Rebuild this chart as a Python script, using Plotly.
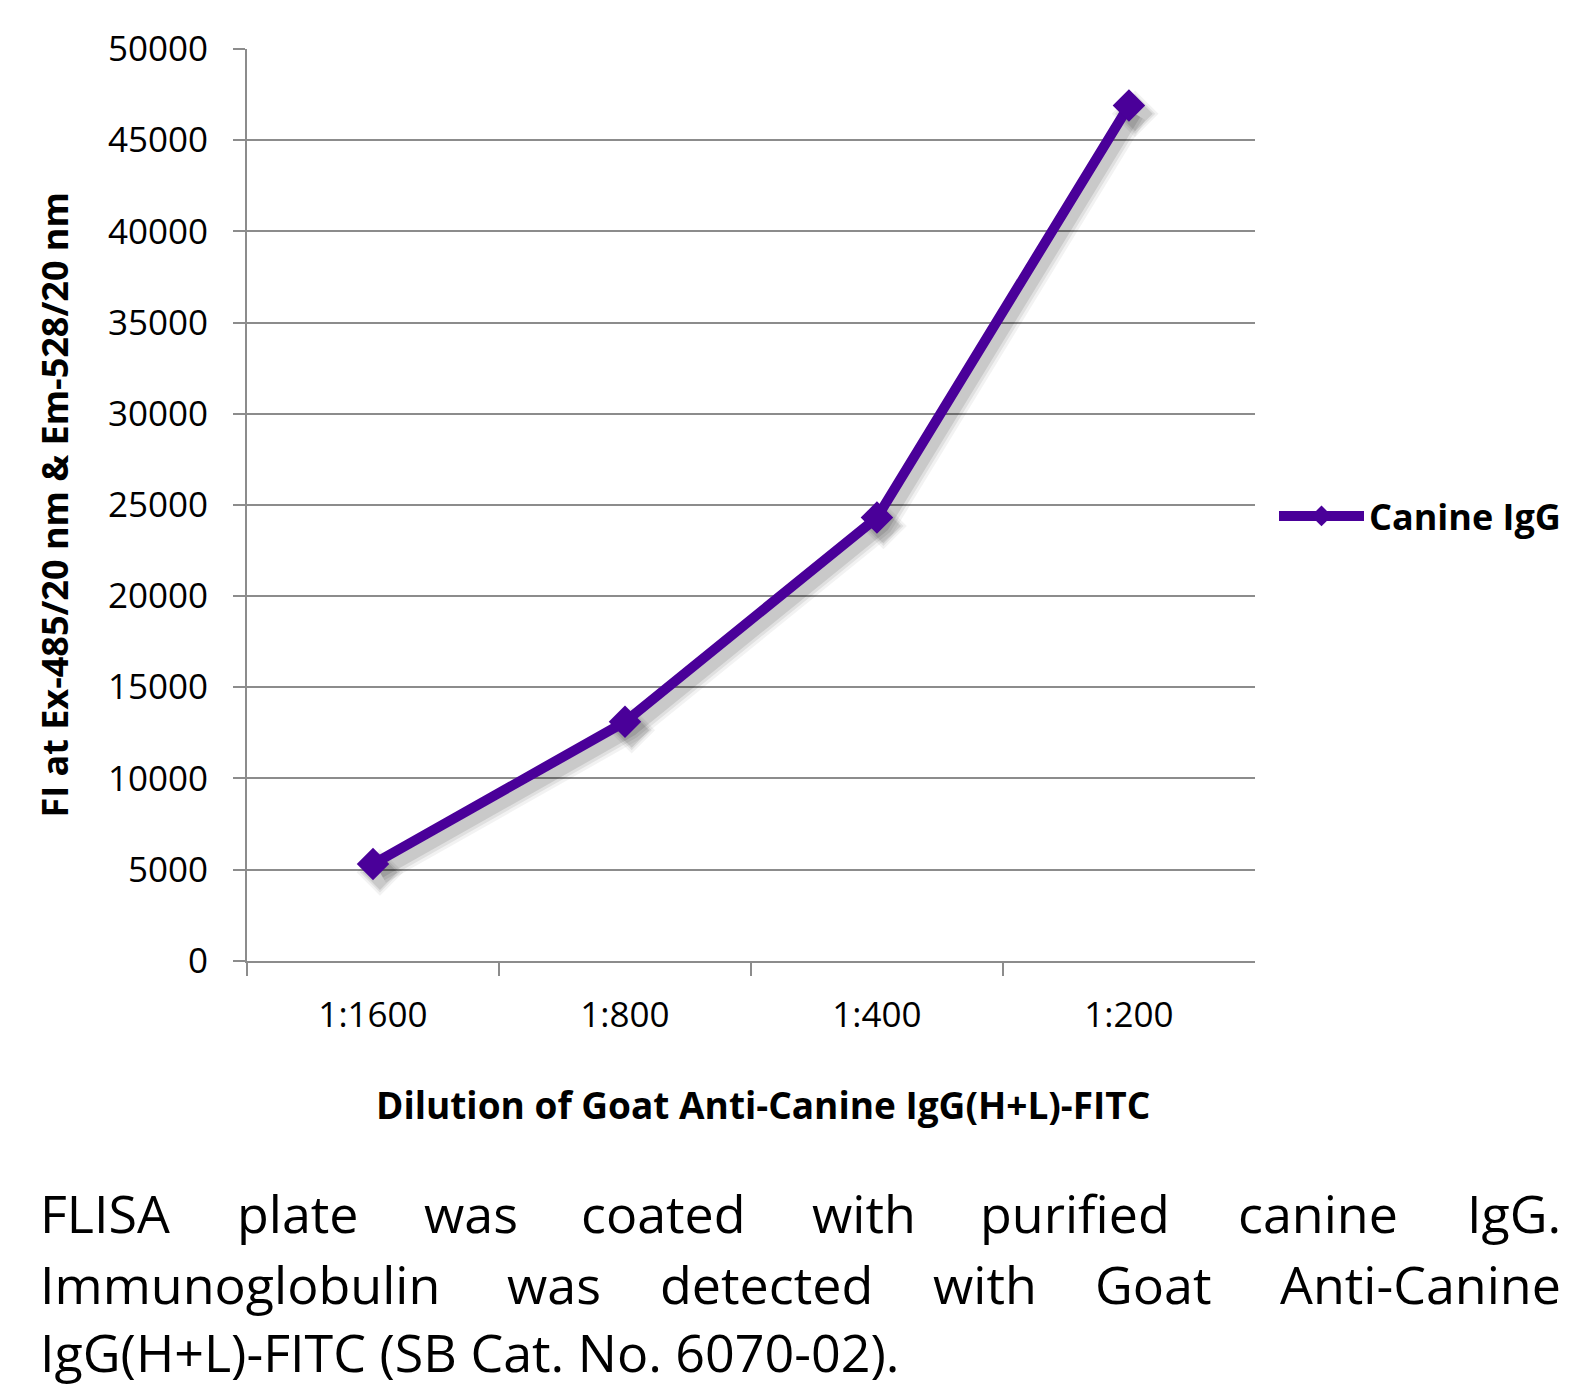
import plotly.graph_objects as go

# Dilution series and measured fluorescence
dilutions = ["1:1600", "1:800", "1:400", "1:200"]
fi_values = [5300, 13100, 24300, 46900]
series_name = "Canine IgG"

y_ticks = list(range(0, 50001, 5000))
y_ticktext = [str(v) for v in y_ticks]

x_title = "Dilution of Goat Anti-Canine IgG(H+L)-FITC"
y_title = "FI at Ex-485/20 nm &amp; Em-528/20 nm"

caption_lines = [
    ["FLISA", "plate", "was", "coated", "with", "purified", "canine", "IgG."],
    ["Immunoglobulin", "was", "detected", "with", "Goat", "Anti-Canine"],
    ["IgG(H+L)-FITC (SB Cat. No. 6070-02)."],
]
# word centres (px), first word left aligned, last right aligned
caption_x = [
    [38, 298, 471, 663, 864, 1075, 1318, 1563],
    [38, 554, 766, 985, 1153, 1563],
    [38],
]
caption_y = [1212, 1283, 1352]

PURPLE = "#4a0099"
GRID = "#8c8c8c"
FONT = "Open Sans"

# the page body adds an 8px margin, so the figure is 8px smaller on each side
OFF = 8
W, H = 1590 - OFF, 1391 - OFF
ML, MR, MT, MB = 239, 329, 41, 422
PW = W - ML - MR
PH = H - MT - MB


def px_x(p):
    return (p - OFF - ML) / PW


def px_y(p):
    return (H - MB - (p - OFF)) / PH


fig = go.Figure()

# invisible copy so the visible axes have data
fig.add_trace(go.Scatter(
    x=dilutions, y=fi_values, mode="markers", marker=dict(opacity=0),
    showlegend=False, hoverinfo="skip",
))

# soft shadow under the line (drawn on an offset copy of the axes)
for width, msize, alpha in [(24, 36, 0.05), (18, 31, 0.07), (12, 27, 0.10)]:
    fig.add_trace(go.Scatter(
        x=dilutions, y=fi_values, mode="lines+markers",
        line=dict(color=f"rgba(0,0,0,{alpha})", width=width),
        marker=dict(symbol="diamond", size=msize, color=f"rgba(0,0,0,{alpha})"),
        xaxis="x2", yaxis="y2", showlegend=False, hoverinfo="skip",
    ))

fig.add_trace(go.Scatter(
    x=dilutions, y=fi_values, mode="lines+markers", name=series_name,
    line=dict(color=PURPLE, width=10),
    marker=dict(symbol="diamond", size=25, color=PURPLE),
    xaxis="x3", yaxis="y3",
))

x_dom = [0, 0.994]
y_dom = [0.009, 1]
hidden_x = dict(type="category", range=[-0.5, 3.5], visible=False, fixedrange=True)
hidden_y = dict(range=[0, 50000], visible=False, fixedrange=True)

fig.update_layout(
    width=W, height=H,
    margin=dict(l=ML, r=MR, t=MT, b=MB),
    paper_bgcolor="white", plot_bgcolor="rgba(0,0,0,0)",
    font=dict(family=FONT, color="black"),
    xaxis=dict(
        domain=x_dom, type="category",
        range=[-0.5, 3.5], tickson="boundaries", ticks="outside", ticklen=13,
        tickwidth=2, tickcolor=GRID, showline=True, linecolor=GRID, linewidth=2,
        showgrid=False, tickfont=dict(size=35, family=FONT), ticklabelstandoff=22,
    ),
    yaxis=dict(
        domain=y_dom, range=[0, 50000], tickvals=y_ticks, ticktext=y_ticktext,
        ticks="outside", ticklen=12,
        tickwidth=2, tickcolor=GRID, showline=True, linecolor=GRID, linewidth=2,
        showgrid=True, gridcolor=GRID, gridwidth=2, zeroline=False,
        tickfont=dict(size=35, family=FONT), ticklabelstandoff=18,
        title=dict(text=y_title,
                   font=dict(size=36, family=FONT, weight="bold"), standoff=28),
    ),
    xaxis2=dict(hidden_x, domain=[0.007, 1], anchor="y2"),
    yaxis2=dict(hidden_y, domain=[0, 0.991], anchor="x2"),
    xaxis3=dict(hidden_x, domain=x_dom, anchor="y3"),
    yaxis3=dict(hidden_y, domain=y_dom, anchor="x3"),
    showlegend=True,
    legend=dict(
        x=px_x(1274), y=px_y(516), xanchor="left", yanchor="middle",
        itemwidth=85, bgcolor="rgba(0,0,0,0)",
        font=dict(size=36, family=FONT, weight="bold", color="black"),
    ),
)

# x axis title, placed where the reference has it
fig.add_annotation(
    text=x_title, x=px_x(763), y=px_y(1104), xref="paper", yref="paper",
    xanchor="center", yanchor="middle", showarrow=False,
    font=dict(size=37, family=FONT, weight="bold", color="black"),
)

for words, xs, yc in zip(caption_lines, caption_x, caption_y):
    for i, (word, xc) in enumerate(zip(words, xs)):
        if i == 0:
            anchor = "left"
        elif i == len(words) - 1:
            anchor = "right"
        else:
            anchor = "center"
        fig.add_annotation(
            text=word, x=px_x(xc), y=px_y(yc), xref="paper", yref="paper",
            xanchor=anchor, yanchor="middle", showarrow=False,
            font=dict(size=52, family=FONT, color="black"),
        )

fig.write_html("out.html")
